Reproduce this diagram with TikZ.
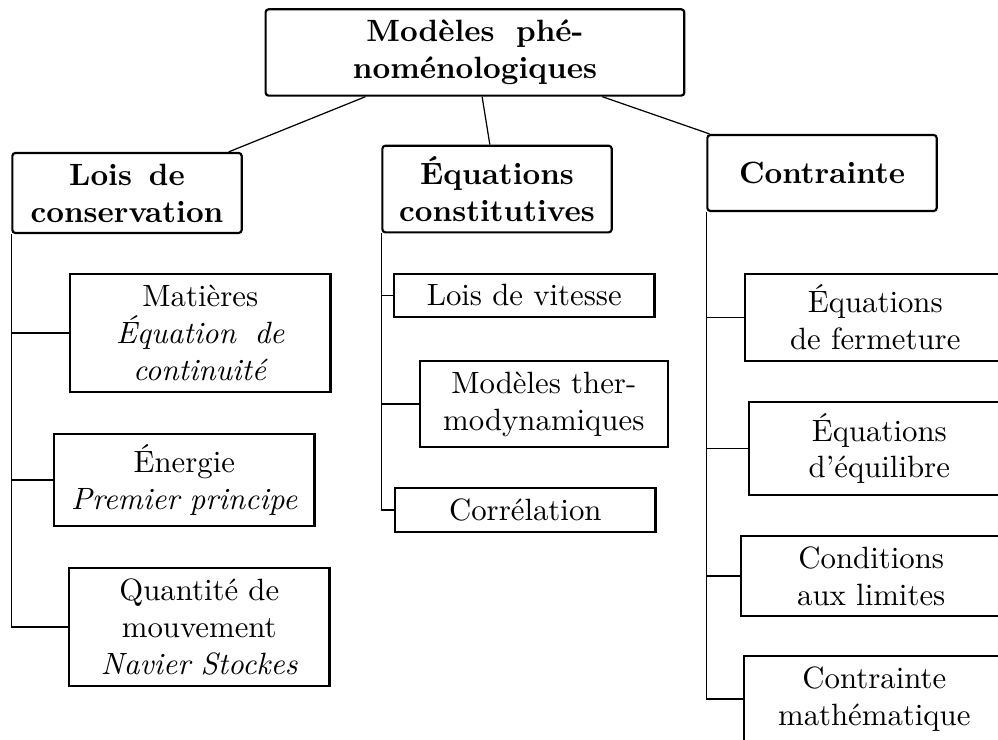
\documentclass[tikz,border=0pt]{standalone}
\usepackage{tikz}

\begin{document}
\begin{tikzpicture}[
      every node/.style = {
        draw, black, line width = .7pt, align = center, inner sep = 3.5pt},
      racine/.style = {
        rounded corners = 1pt, font = \bfseries, text width = 129pt},
      groupe/.style = {
        rounded corners = 1pt, font = \bfseries, text width = 67.5pt},
      feuille/.style = {anchor = west, text width = 77.6pt}
      ]
    \useasboundingbox (0,0) rectangle (11.393,-8.447);
    \clip (0,0) rectangle (11.393,-8.447);

    \node[racine] (racine) at (5.422,-0.599) {Modèles\hspace{7pt}phé-\\noménologiques};
    \node[groupe] (lois) at (1.450,-2.203) {Lois\hspace{5.5pt}de\\conservation};
    \node[groupe] (equa) at (5.674,-2.158) {Équations\\constitutives};
    \node[groupe, minimum height = 24.7pt] (contr) at (9.384,-1.975) {Contrainte};

    \node[feuille] (mat) at (0.788,-3.801) {Matières\\\textit{Équation\hspace{6pt}de}\\\textit{continuité}};
    \node[feuille] (ener) at (0.605,-5.479) {Énergie\\\textit{Premier principe}};
    \node[feuille] (quant) at (0.776,-7.158) {Quantité de\\mouvement\\\textit{Navier Stockes}};

    \node[feuille] (vit) at (4.486,-3.373) {Lois de vitesse};
    \node[feuille, text width = 73.4pt] (thermo) at (4.783,-4.612) {Modèles ther-\\modynamiques};
    \node[feuille] (corr) at (4.498,-5.822) {Corrélation};

    \node[feuille] (ferm) at (8.493,-3.624) {Équations\\de fermeture};
    \node[feuille] (equil) at (8.539,-5.120) {Équations\\d’équilibre};
    \node[feuille] (lim) at (8.447,-6.575) {Conditions\\aux limites};
    \node[feuille] (math) at (8.482,-7.979) {Contrainte\\mathématique};

    \draw (racine)--(lois);
    \draw (racine)--(equa);
    \draw (racine)--(contr);

    \draw (lois.south west) |- (mat.west);
    \draw (lois.south west) |- (ener.west);
    \draw (lois.south west) |- (quant.west);

    \draw (equa.south west) |- (vit.west);
    \draw (equa.south west) |- (thermo.west);
    \draw (equa.south west) |- (corr.west);

    \draw (contr.south west) |- (ferm.west);
    \draw (contr.south west) |- (equil.west);
    \draw (contr.south west) |- (lim.west);
    \draw (contr.south west) |- (math.west);
  \end{tikzpicture}
\end{document}
